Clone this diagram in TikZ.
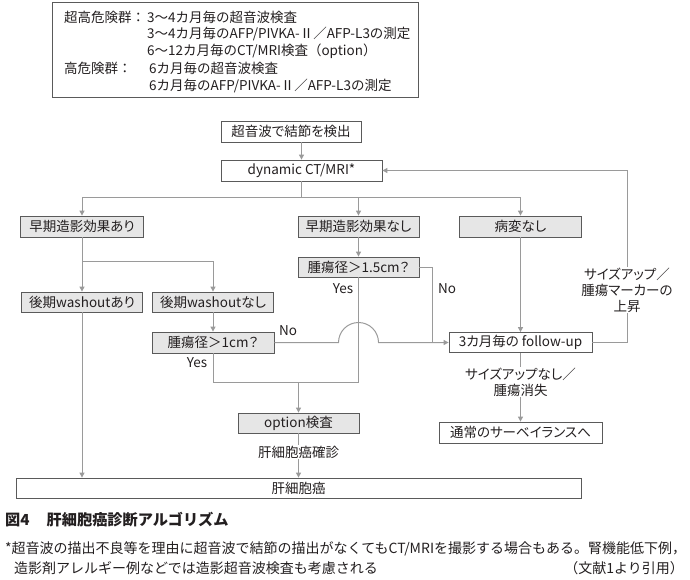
\documentclass[tikz,border=0pt]{standalone}
\usepackage{fontspec}
\setmainfont[RawFeature=+palt]{Noto Sans CJK JP}
\newfontfamily\jpf{Noto Sans CJK JP}
\usetikzlibrary{arrows.meta}
\definecolor{boxc}{HTML}{5A5A5A}
\definecolor{gfill}{HTML}{E6E6E6}
\definecolor{linec}{HTML}{9A9A9A}
\definecolor{txt}{HTML}{231F20}
\newcommand{\fs}{\fontsize{13.5pt}{16pt}\selectfont}
\newcommand{\fsf}{\jpf\fontsize{13.5pt}{16pt}\selectfont}
\newcommand{\fsn}{\jpf\fontsize{14pt}{16pt}\selectfont}
\begin{document}
\begin{tikzpicture}[x=1pt,y=-1pt,
  box/.style={draw=boxc, line width=0.8pt, inner sep=0pt, font=\fs, text=txt, fill=white},
  gbox/.style={box, fill=gfill},
  conn/.style={draw=linec, line width=1pt},
  arr/.style={conn, -{Triangle[length=5pt,width=5pt]}},
  lbl/.style={font=\fs, text=txt, inner sep=1pt, fill=white, align=center},
  yn/.style={font=\fs, text=txt, inner sep=0pt},
  tl/.style={font=\fsf, text=txt, inner sep=0pt, anchor=west}]
\useasboundingbox (0,0) rectangle (690,580);

% risk box
\node[box, minimum width=366pt, minimum height=95pt] (risk) at (235,49.5) {};
\node[tl] (r1a) at (64,17) {超高危険群：};
\node[tl] (r1b) at (147,17) {3～4カ月毎の超音波検査};
\node[tl] (r2b) at (147,34) {3～4カ月毎のAFP/PIVKA-Ⅱ／AFP-L3の測定};
\node[tl] (r3b) at (147,51) {6～12カ月毎のCT/MRI検査（option）};
\node[tl] (r4a) at (64,68) {高危険群：};
\node[tl] (r4b) at (149,68) {6カ月毎の超音波検査};
\node[tl] (r5b) at (149,86) {6カ月毎のAFP/PIVKA-Ⅱ／AFP-L3の測定};

% flow boxes
\node[box,  minimum width=140pt, minimum height=21pt] (n1) at (291,131.5) {超音波で結節を検出};
\node[box,  minimum width=161pt, minimum height=21pt] (n2) at (301.5,170.5) {dynamic CT/MRI*};
\node[gbox, minimum width=123pt, minimum height=21pt] (n3a) at (82,226.5) {早期造影効果あり};
\node[gbox, minimum width=121pt, minimum height=21pt] (n3b) at (358.5,226.5) {早期造影効果なし};
\node[gbox, minimum width=122pt, minimum height=21pt] (n3c) at (520.5,226.5) {病変なし};
\node[gbox, minimum width=121pt, minimum height=20pt] (n4a) at (82,302) {後期washoutあり};
\node[gbox, minimum width=121pt, minimum height=20pt] (n4b) at (213,302) {後期washoutなし};
\node[gbox, minimum width=121pt, minimum height=20pt] (n4c) at (358.5,267) {腫瘍径＞1.5cm？};
\node[gbox, minimum width=122pt, minimum height=21pt] (n5) at (213,342.5) {腫瘍径＞1cm？};
\node[gbox, minimum width=121pt, minimum height=20pt] (n6) at (298.5,423) {option検査};
\node[box,  minimum width=565pt, minimum height=20pt] (n7) at (298.5,488) {肝細胞癌};
\node[box,  minimum width=143pt, minimum height=20pt] (n8) at (520.5,342.5) {3カ月毎の follow-up};
\node[box,  minimum width=163pt, minimum height=21pt] (n9) at (520.5,432.5) {通常のサーベイランスへ};

% connectors
\draw[arr] (n2.north |- n1.south) -- (n2.north);
\coordinate (br) at (301.5,197);
\draw[conn] (n2.south) -- (br);
\draw[conn] (n3a.north |- br) -- (n3c.north |- br);
\draw[arr] (n3a.north |- br) -- (n3a.north);
\draw[arr] (n3b.north |- br) -- (n3b.north);
\draw[arr] (n3c.north |- br) -- (n3c.north);

\coordinate (br2) at (82,261);
\draw[conn] (n3a.south) -- (br2) -- (br2 -| n4b.north);
\draw[arr] (br2) -- (n4a.north);
\draw[arr] (br2 -| n4b.north) -- (n4b.north);
\draw[arr] (n4a.south) -- (n4a.south |- n7.north);
\draw[arr] (n4b.south) -- (n5.north);
\draw[arr] (n3b.south) -- (n4c.north);

\coordinate (nojoin) at (432,342.5);
\draw[conn] (n4c.east) -| (nojoin);
\coordinate (hopL) at (338.5,342.5);
\draw[arr] (n5.east) -- (hopL) arc[start angle=180, end angle=0, radius=20pt] -- (n8.west);

\coordinate (yj) at (213,382);
\coordinate (yj2) at (358.5,382);
\draw[conn] (n5.south) -- (yj) -- (yj2);
\draw[conn] (n4c.south) -- (yj2);
\draw[arr] (n6.north |- yj) -- (n6.north);

\draw[arr] (n6.south) -- (n7.north);
\node[lbl] (l1) at (298.5,452) {肝細胞癌確診};

\draw[arr] (n3c.south) -- (n8.north);
\coordinate (rc1) at (627,342.5);
\coordinate (rc2) at (627,170.5);
\draw[arr] (n8.east) -- (rc1) -- (rc2) -- (n2.east);
\node[lbl] (l2) at (627,290) {サイズアップ／\\腫瘍マーカーの\\上昇};

\draw[arr] (n8.south) -- (n9.north);
\node[lbl] (l3) at (520.5,382) {サイズアップなし／\\腫瘍消失};

\node[yn] (yes1) at (343,289) {Yes};
\node[yn] (no1) at (447,289) {No};
\node[yn] (no2) at (288,331) {No};
\node[yn] (yes2) at (197,363) {Yes};

% caption and footnote
\node[anchor=west, inner sep=0pt, text=txt, font=\jpf\fontsize{15.2pt}{17pt}\selectfont\bfseries] (cap) at (5,520) {図4\hspace{17pt}肝細胞癌診断アルゴリズム};
\node[anchor=west, inner sep=0pt, text=txt, font=\fsn] (fn1) at (5,549) {*超音波の描出不良等を理由に超音波で結節の描出がなくてもCT/MRIを撮影する場合もある。腎機能低下例，};
\node[anchor=west, inner sep=0pt, text=txt, font=\fsn] (fn2) at (14,568) {造影剤アレルギー例などでは造影超音波検査も考慮される};
\node[anchor=east, inner sep=0pt, text=txt, font=\fsn] (fn3) at (684,568) {（文献1より引用）};
\end{tikzpicture}
\end{document}
